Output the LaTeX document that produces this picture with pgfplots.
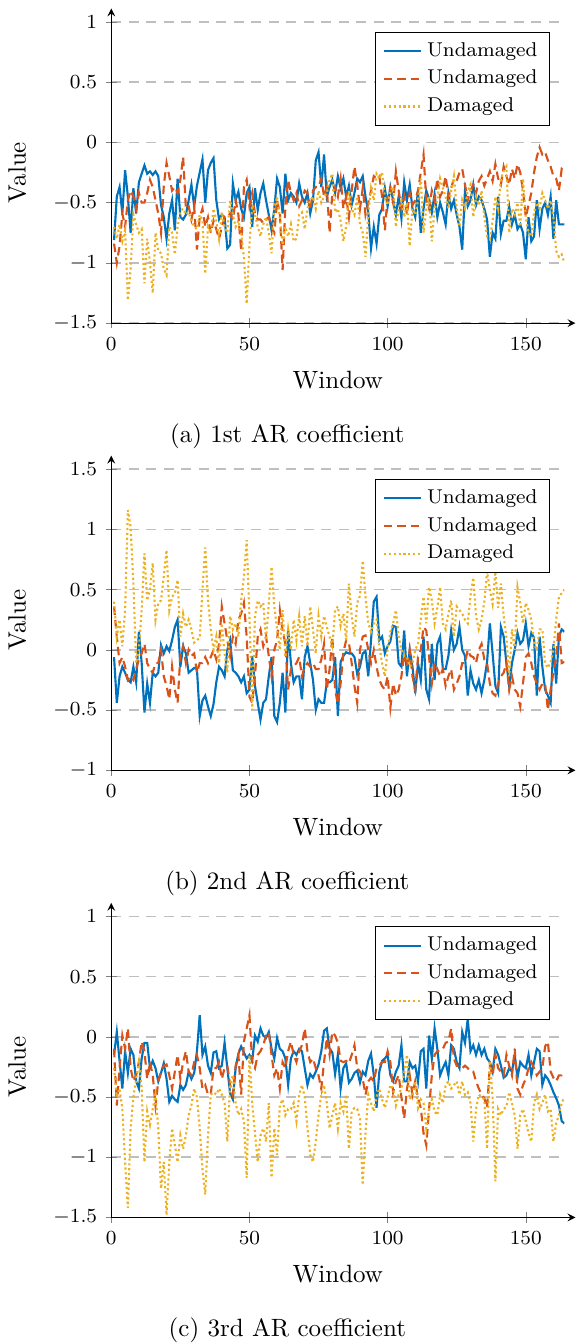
\documentclass[border=0pt]{standalone}
\usepackage{pgfplots}
\usepackage{pgfplotstable}
\pgfplotsset{compat=1.18}

\definecolor{cblue}{RGB}{0,114,189}
\definecolor{corange}{RGB}{217,83,25}
\definecolor{cyellow}{RGB}{237,177,32}

% columns: window, undamaged (1), undamaged (2), damaged
\pgfplotstableread{
x u1 u2 d
1 -0.81 -0.84 -0.70
2 -0.45 -1.00 -0.80
3 -0.37 -0.86 -0.68
4 -0.59 -0.59 -0.82
5 -0.23 -0.70 -0.73
6 -0.45 -0.48 -1.31
7 -0.75 -0.40 -1.05
8 -0.38 -0.45 -0.60
9 -0.59 -0.55 -0.68
10 -0.33 -0.42 -0.75
11 -0.26 -0.50 -0.72
12 -0.19 -0.50 -1.17
13 -0.26 -0.42 -0.80
14 -0.24 -0.31 -1.00
15 -0.27 -0.37 -1.25
16 -0.24 -0.48 -0.75
17 -0.28 -0.59 -0.90
18 -0.52 -0.75 -0.92
19 -0.62 -0.36 -1.05
20 -0.80 -0.17 -1.10
21 -0.59 -0.28 -0.70
22 -0.48 -0.40 -0.75
23 -0.73 -0.37 -0.93
24 -0.30 -0.42 -0.70
25 -0.62 -0.31 -0.57
26 -0.64 -0.12 -0.55
27 -0.60 -0.55 -0.60
28 -0.48 -0.53 -0.58
29 -0.35 -0.64 -0.65
30 -0.53 -0.53 -0.70
31 -0.36 -0.89 -0.72
32 -0.25 -0.62 -0.60
33 -0.14 -0.55 -0.65
34 -0.50 -0.70 -1.09
35 -0.23 -0.62 -0.70
36 -0.17 -0.75 -0.75
37 -0.13 -0.65 -0.55
38 -0.48 -0.72 -0.65
39 -0.64 -0.80 -0.80
40 -0.60 -0.70 -0.58
41 -0.62 -0.62 -0.70
42 -0.88 -0.62 -0.75
43 -0.85 -0.59 -0.48
44 -0.34 -0.64 -0.60
45 -0.48 -0.48 -0.70
46 -0.41 -0.60 -0.65
47 -0.55 -0.90 -0.75
48 -0.62 -0.37 -0.95
49 -0.42 -0.31 -1.34
50 -0.37 -0.53 -0.85
51 -0.70 -0.42 -0.52
52 -0.38 -0.59 -0.60
53 -0.56 -0.64 -0.70
54 -0.42 -0.64 -0.78
55 -0.34 -0.67 -0.68
56 -0.48 -0.64 -0.62
57 -0.60 -0.62 -0.75
58 -0.73 -0.70 -0.92
59 -0.55 -0.75 -0.55
60 -0.30 -0.48 -0.45
61 -0.37 -0.59 -0.62
62 -0.59 -1.06 -0.85
63 -0.26 -0.53 -0.70
64 -0.48 -0.31 -0.78
65 -0.42 -0.42 -0.68
66 -0.45 -0.48 -0.82
67 -0.50 -0.42 -0.80
68 -0.34 -0.53 -0.60
69 -0.45 -0.48 -0.58
70 -0.50 -0.40 -0.72
71 -0.42 -0.42 -0.55
72 -0.59 -0.56 -0.48
73 -0.48 -0.40 -0.45
74 -0.15 -0.37 -0.55
75 -0.08 -0.37 -0.40
76 -0.37 -0.30 -0.50
77 -0.10 -0.45 -0.45
78 -0.45 -0.37 -0.42
79 -0.37 -0.75 -0.31
80 -0.31 -0.42 -0.26
81 -0.42 -0.37 -0.58
82 -0.28 -0.45 -0.55
83 -0.38 -0.30 -0.65
84 -0.30 -0.55 -0.82
85 -0.45 -0.45 -0.70
86 -0.36 -0.62 -0.40
87 -0.52 -0.40 -0.55
88 -0.42 -0.20 -0.60
89 -0.30 -0.35 -0.45
90 -0.33 -0.55 -0.68
91 -0.28 -0.38 -0.75
92 -0.45 -0.60 -0.95
93 -0.58 -0.50 -0.60
94 -0.88 -0.40 -0.38
95 -0.70 -0.28 -0.48
96 -0.84 -0.30 -0.26
97 -0.60 -0.28 -0.30
98 -0.55 -0.45 -0.25
99 -0.38 -0.73 -0.45
100 -0.53 -0.45 -0.52
101 -0.37 -0.38 -0.40
102 -0.48 -0.50 -0.37
103 -0.60 -0.24 -0.70
104 -0.45 -0.40 -0.55
105 -0.63 -0.55 -0.48
106 -0.33 -0.45 -0.62
107 -0.48 -0.60 -0.50
108 -0.35 -0.42 -0.86
109 -0.55 -0.52 -0.55
110 -0.62 -0.48 -0.60
111 -0.40 -0.40 -0.48
112 -0.75 -0.25 -0.30
113 -0.55 -0.10 -0.75
114 -0.40 -0.48 -0.55
115 -0.47 -0.55 -0.45
116 -0.58 -0.40 -0.82
117 -0.43 -0.48 -0.55
118 -0.62 -0.30 -0.48
119 -0.50 -0.45 -0.30
120 -0.58 -0.40 -0.38
121 -0.68 -0.28 -0.45
122 -0.42 -0.45 -0.55
123 -0.55 -0.38 -0.40
124 -0.48 -0.30 -0.28
125 -0.60 -0.32 -0.55
126 -0.70 -0.25 -0.70
127 -0.89 -0.22 -0.48
128 -0.40 -0.35 -0.55
129 -0.53 -0.48 -0.40
130 -0.48 -0.40 -0.35
131 -0.35 -0.35 -0.62
132 -0.52 -0.42 -0.45
133 -0.45 -0.32 -0.52
134 -0.48 -0.28 -0.40
135 -0.55 -0.36 -0.62
136 -0.64 -0.30 -0.78
137 -0.95 -0.24 -0.80
138 -0.75 -0.32 -0.65
139 -0.80 -0.18 -0.45
140 -0.45 -0.30 -0.55
141 -0.76 -0.35 -0.30
142 -0.65 -0.20 -0.24
143 -0.65 -0.28 -0.20
144 -0.53 -0.35 -0.75
145 -0.68 -0.22 -0.55
146 -0.60 -0.30 -0.60
147 -0.72 -0.18 -0.50
148 -0.68 -0.25 -0.70
149 -0.75 -0.40 -0.30
150 -0.97 -0.62 -0.62
151 -0.62 -0.52 -0.75
152 -0.82 -0.42 -0.78
153 -0.78 -0.25 -0.58
154 -0.48 -0.12 -0.50
155 -0.72 -0.04 -0.55
156 -0.55 -0.10 -0.42
157 -0.50 -0.08 -0.48
158 -0.60 -0.15 -0.55
159 -0.45 -0.20 -0.48
160 -0.80 -0.28 -0.62
161 -0.48 -0.30 -0.90
162 -0.68 -0.40 -0.95
163 -0.68 -0.22 -0.93
164 -0.68 -0.24 -1.00
}\coefA

\pgfplotstableread{
x u1 u2 d
1 -0.06 0.36 0.40
2 -0.44 0.11 0.11
3 -0.22 -0.11 0.25
4 -0.14 -0.06 0.03
5 -0.19 -0.14 0.33
6 -0.25 -0.25 1.16
7 -0.27 -0.22 1.02
8 -0.14 -0.25 0.55
9 -0.27 -0.16 -0.11
10 0.15 -0.08 0.00
11 -0.11 -0.03 0.33
12 -0.52 0.05 0.80
13 -0.28 -0.11 0.41
14 -0.44 -0.16 0.50
15 -0.19 -0.19 0.72
16 -0.22 -0.11 0.25
17 -0.19 -0.11 0.39
18 0.04 0.00 0.41
19 -0.03 -0.22 0.61
20 0.03 -0.30 0.83
21 -0.01 -0.41 0.33
22 0.08 -0.14 0.44
23 0.19 -0.33 0.47
24 0.25 -0.44 0.58
25 -0.14 -0.05 0.11
26 0.03 0.03 0.30
27 -0.03 -0.11 0.19
28 -0.19 0.00 0.25
29 -0.17 -0.05 0.17
30 -0.15 -0.03 0.06
31 -0.16 -0.19 0.08
32 -0.55 -0.11 0.10
33 -0.42 -0.11 0.50
34 -0.38 -0.06 0.85
35 -0.47 -0.11 0.41
36 -0.55 -0.06 0.17
37 -0.45 0.00 0.00
38 -0.27 -0.08 0.11
39 -0.14 0.05 -0.11
40 -0.17 0.36 0.22
41 -0.22 0.22 -0.03
42 0.00 0.08 -0.19
43 0.08 -0.05 0.28
44 -0.17 0.11 0.17
45 -0.19 0.05 0.22
46 -0.22 0.25 0.11
47 -0.27 0.30 0.41
48 -0.22 0.39 0.61
49 -0.36 0.11 0.91
50 -0.33 -0.39 0.28
51 -0.05 -0.44 -0.50
52 -0.30 -0.22 0.28
53 -0.44 0.11 0.41
54 -0.58 0.17 0.36
55 -0.44 0.03 0.39
56 -0.41 0.11 0.08
57 -0.22 -0.05 0.39
58 -0.06 -0.22 0.69
59 -0.55 0.00 0.36
60 -0.60 0.08 0.17
61 -0.44 0.33 0.00
62 -0.19 0.16 0.33
63 -0.52 0.05 -0.06
64 0.17 -0.33 0.17
65 -0.11 -0.16 0.00
66 -0.27 -0.14 0.25
67 -0.22 -0.11 0.08
68 -0.22 -0.06 0.28
69 -0.41 -0.22 0.03
70 -0.06 -0.14 0.28
71 0.03 -0.11 0.03
72 -0.11 -0.14 0.36
73 -0.25 -0.11 0.17
74 -0.50 -0.16 -0.03
75 -0.41 -0.16 0.28
76 -0.44 -0.08 0.11
77 -0.44 0.05 0.28
78 -0.27 -0.33 0.19
79 -0.27 -0.16 0.11
80 -0.25 0.11 0.03
81 -0.06 -0.33 0.33
82 -0.55 -0.45 0.36
83 -0.10 -0.28 0.20
84 -0.05 -0.02 0.30
85 -0.02 0.08 0.08
86 -0.03 0.06 0.55
87 -0.03 -0.11 0.28
88 -0.06 -0.30 0.11
89 -0.20 -0.44 0.39
90 -0.14 0.00 0.45
91 -0.03 0.11 0.74
92 -0.01 0.12 0.44
93 -0.22 0.00 0.22
94 0.08 -0.11 0.15
95 0.40 0.00 0.22
96 0.44 -0.14 0.25
97 0.08 -0.25 0.03
98 0.11 -0.30 -0.11
99 -0.03 -0.33 -0.22
100 0.03 -0.22 0.00
101 0.07 -0.48 0.15
102 0.20 -0.28 0.22
103 0.19 -0.38 0.33
104 -0.11 -0.33 0.11
105 -0.14 -0.22 0.00
106 0.16 -0.03 -0.05
107 -0.22 -0.14 -0.06
108 0.00 0.00 -0.14
109 -0.14 -0.22 -0.11
110 -0.36 -0.33 0.00
111 -0.11 -0.06 0.05
112 -0.25 0.00 0.25
113 0.11 0.19 0.44
114 -0.33 0.16 0.22
115 -0.41 -0.06 0.52
116 0.05 -0.28 0.41
117 -0.25 -0.11 0.22
118 0.05 -0.16 0.35
119 0.11 -0.22 0.52
120 -0.16 -0.16 0.22
121 -0.16 -0.30 0.17
122 -0.05 -0.22 0.30
123 0.16 -0.16 0.41
124 0.00 -0.33 0.11
125 0.05 -0.28 0.36
126 0.19 -0.22 0.33
127 0.00 -0.11 0.30
128 -0.05 -0.11 0.25
129 -0.38 0.00 0.22
130 -0.17 -0.05 0.45
131 -0.28 -0.06 0.60
132 -0.33 -0.11 0.28
133 -0.25 0.00 0.17
134 -0.36 0.05 0.25
135 -0.25 -0.08 0.40
136 -0.10 -0.11 0.65
137 0.22 -0.28 0.50
138 -0.03 -0.36 0.38
139 -0.30 -0.38 0.65
140 -0.36 -0.28 0.35
141 0.19 -0.22 0.55
142 0.11 -0.19 0.28
143 -0.11 -0.11 0.10
144 -0.30 -0.33 -0.22
145 -0.11 -0.22 0.17
146 0.00 -0.33 0.00
147 0.14 -0.36 0.52
148 0.05 -0.47 0.39
149 0.08 -0.28 0.22
150 0.22 -0.06 0.39
151 0.03 -0.03 0.33
152 0.14 -0.11 0.25
153 0.10 -0.22 0.05
154 -0.38 -0.28 0.00
155 0.11 -0.33 0.17
156 -0.14 -0.28 0.17
157 -0.33 -0.28 -0.11
158 -0.38 -0.50 -0.15
159 -0.44 -0.33 -0.10
160 0.05 -0.19 0.00
161 -0.28 -0.06 0.25
162 0.11 0.22 0.44
163 0.17 -0.11 0.47
164 0.15 -0.10 0.50
}\coefB

\pgfplotstableread{
x u1 u2 d
1 -0.15 -0.10 -0.26
2 0.04 -0.57 -0.50
3 -0.20 -0.26 -0.43
4 -0.43 0.01 -0.60
5 -0.12 -0.10 -1.04
6 -0.30 0.07 -1.42
7 -0.10 -0.26 -0.76
8 -0.15 -0.37 -0.50
9 -0.37 -0.32 -0.35
10 -0.43 -0.21 -0.21
11 -0.18 -0.04 -0.43
12 -0.05 -0.12 -1.04
13 -0.05 -0.35 -0.62
14 -0.26 -0.21 -0.73
15 -0.20 -0.32 -0.60
16 -0.26 -0.57 -0.48
17 -0.37 -0.37 -0.76
18 -0.30 -0.29 -1.26
19 -0.22 -0.24 -1.04
20 -0.35 -0.23 -1.48
21 -0.54 -0.32 -1.04
22 -0.49 -0.43 -0.76
23 -0.52 -0.29 -0.90
24 -0.54 -0.15 -1.04
25 -0.40 -0.35 -0.82
26 -0.44 -0.21 -0.93
27 -0.40 -0.12 -0.82
28 -0.29 -0.29 -0.65
29 -0.35 -0.32 -0.57
30 -0.30 -0.21 -0.43
31 -0.12 -0.15 -0.50
32 0.18 -0.26 -0.76
33 -0.15 -0.43 -1.10
34 -0.08 -0.40 -1.31
35 -0.24 -0.48 -0.82
36 -0.30 -0.48 -0.48
37 -0.13 -0.26 -0.46
38 -0.12 -0.26 -0.48
39 -0.26 -0.21 -0.43
40 -0.24 -0.35 -0.48
41 -0.05 -0.26 -0.55
42 -0.26 -0.24 -0.87
43 -0.47 -0.40 -0.40
44 -0.52 -0.48 -0.32
45 -0.26 -0.24 -0.55
46 -0.14 -0.15 -0.65
47 -0.08 -0.48 -0.60
48 -0.13 -0.04 -0.70
49 -0.18 0.07 -1.17
50 -0.15 0.18 -0.15
51 -0.20 -0.21 -0.55
52 0.01 -0.26 -0.80
53 -0.04 -0.15 -1.04
54 0.07 -0.12 -0.82
55 0.01 -0.07 -0.76
56 -0.01 0.01 -0.87
57 0.04 0.04 -0.55
58 -0.10 -0.15 -1.17
59 -0.18 -0.32 -0.76
60 -0.01 -0.26 -0.98
61 -0.10 -0.43 -0.57
62 -0.12 -0.21 -0.52
63 -0.18 -0.26 -0.65
64 -0.40 -0.12 -0.60
65 -0.18 -0.04 -0.60
66 -0.12 -0.15 -0.55
67 -0.15 -0.21 -0.70
68 -0.10 -0.12 -0.48
69 -0.12 -0.07 -0.40
70 -0.26 0.07 -0.50
71 -0.40 -0.12 -0.76
72 -0.31 -0.21 -0.98
73 -0.34 -0.18 -1.04
74 -0.29 -0.26 -0.87
75 -0.23 -0.32 -0.65
76 -0.12 -0.43 -0.48
77 0.05 -0.21 -0.40
78 0.07 -0.01 -0.55
79 -0.10 -0.15 -0.76
80 -0.13 0.04 -0.65
81 -0.31 0.01 -0.55
82 -0.15 -0.05 -0.76
83 -0.43 -0.20 -0.55
84 -0.26 -0.21 -0.62
85 -0.22 -0.20 -0.48
86 -0.38 -0.22 -0.93
87 -0.35 -0.15 -0.62
88 -0.30 -0.07 -0.59
89 -0.28 -0.26 -0.60
90 -0.38 -0.29 -0.68
91 -0.29 -0.35 -1.23
92 -0.32 -0.48 -0.80
93 -0.20 -0.37 -0.48
94 -0.14 -0.34 -0.55
95 -0.32 -0.37 -0.62
96 -0.59 -0.26 -0.50
97 -0.29 -0.24 -0.43
98 -0.20 -0.21 -0.52
99 -0.18 -0.21 -0.59
100 -0.15 -0.12 -0.50
101 -0.32 -0.21 -0.40
102 -0.37 -0.46 -0.43
103 -0.29 -0.37 -0.57
104 -0.24 -0.32 -0.48
105 -0.07 -0.50 -0.43
106 -0.37 -0.68 -0.30
107 -0.37 -0.43 -0.15
108 -0.21 -0.32 -0.52
109 -0.26 -0.48 -0.48
110 -0.24 -0.37 -0.37
111 -0.37 -0.51 -0.59
112 -0.12 -0.59 -0.52
113 -0.10 -0.80 -0.55
114 -0.43 -0.90 -0.76
115 0.01 -0.60 -0.60
116 -0.18 -0.32 -0.52
117 0.07 -0.15 -0.62
118 -0.10 -0.12 -0.65
119 -0.32 -0.12 -0.48
120 -0.26 -0.10 -0.55
121 -0.21 -0.05 -0.40
122 -0.32 -0.04 -0.37
123 -0.07 0.07 -0.43
124 -0.10 -0.18 -0.40
125 -0.21 -0.24 -0.37
126 -0.26 -0.24 -0.48
127 0.04 -0.26 -0.37
128 -0.05 -0.24 -0.48
129 0.15 -0.26 -0.46
130 -0.12 -0.29 -0.55
131 -0.07 -0.29 -0.87
132 -0.15 -0.37 -0.60
133 -0.07 -0.43 -0.48
134 -0.15 -0.48 -0.50
135 -0.10 -0.51 -0.52
136 -0.18 -0.59 -0.93
137 -0.21 -0.24 -0.20
138 -0.29 -0.32 -0.50
139 -0.10 -0.15 -1.20
140 -0.15 -0.26 -0.60
141 -0.24 -0.29 -0.65
142 -0.34 -0.32 -0.60
143 -0.32 -0.15 -0.58
144 -0.26 -0.24 -0.46
145 -0.29 -0.32 -0.55
146 -0.15 -0.10 -0.65
147 -0.34 -0.43 -0.93
148 -0.21 -0.48 -0.65
149 -0.24 -0.40 -0.60
150 -0.26 -0.35 -0.70
151 -0.15 -0.26 -0.80
152 -0.32 -0.21 -0.87
153 -0.21 -0.26 -0.55
154 -0.10 -0.32 -0.48
155 -0.12 -0.29 -0.60
156 -0.40 -0.26 -0.55
157 -0.32 -0.08 -0.48
158 -0.35 -0.04 -0.62
159 -0.40 -0.29 -0.60
160 -0.46 -0.34 -0.87
161 -0.51 -0.37 -0.72
162 -0.57 -0.32 -0.65
163 -0.70 -0.32 -0.55
164 -0.72 -0.30 -0.50
}\coefC

\pgfplotsset{
  arcoef/.style={
    scale only axis,
    width=181.2pt, height=120.4pt,
    axis lines=left,
    x axis line style={shorten >=-4.4pt},
    y axis line style={shorten >=-5.4pt},
    xmin=0, xmax=164,
    xtick={0,50,100,150},
    tick align=center,
    ymajorgrids,
    grid style={black!25, line width=0.6pt, dash pattern=on 4pt off 3pt},
    xlabel={Window}, ylabel={Value},
    ylabel shift=4pt,
    xlabel shift=1.5pt,
    tick label style={font=\footnotesize},
    label style={font=\normalsize},
    legend style={font=\footnotesize, at={(0.969,0.967)}, anchor=north east,
      draw=black, cells={anchor=west}},
    legend image code/.code={
      \draw[mark repeat=2,mark phase=2,##1] plot coordinates {(0cm,0cm) (0.26cm,0cm) (0.52cm,0cm)};
    },
  },
  und1/.style={cblue, line width=0.85pt},
  und2/.style={corange, line width=0.85pt, dash pattern=on 3.4pt off 2pt},
  dam/.style={cyellow, line width=0.85pt, dash pattern=on 0.85pt off 1.1pt},
}
\tikzset{subcap/.style={inner sep=0pt, font=\normalsize}}

\begin{document}
\begin{tikzpicture}

\begin{axis}[arcoef, name=A, ymin=-1.5, ymax=1, ytick={-1.5,-1,...,1}]
\addplot[und1] table[x=x, y=u1] {\coefA};
\addplot[und2] table[x=x, y=u2] {\coefA};
\addplot[dam] table[x=x, y=d] {\coefA};
\legend{Undamaged, Undamaged, Damaged}
\end{axis}
\node[subcap] at ([xshift=70.4pt, yshift=-45.2pt]A.south west) {(a) 1st AR coefficient};

\begin{axis}[arcoef, name=B, at={(0,-178.8pt)}, ymin=-1, ymax=1.5, ytick={-1,-0.5,...,1.5}]
\addplot[und1] table[x=x, y=u1] {\coefB};
\addplot[und2] table[x=x, y=u2] {\coefB};
\addplot[dam] table[x=x, y=d] {\coefB};
\legend{Undamaged, Undamaged, Damaged}
\end{axis}
\node[subcap] at ([xshift=70.4pt, yshift=-45.2pt]B.south west) {(b) 2nd AR coefficient};

\begin{axis}[arcoef, name=C, at={(0,-357.6pt)}, ymin=-1.5, ymax=1, ytick={-1.5,-1,...,1}]
\addplot[und1] table[x=x, y=u1] {\coefC};
\addplot[und2] table[x=x, y=u2] {\coefC};
\addplot[dam] table[x=x, y=d] {\coefC};
\legend{Undamaged, Undamaged, Damaged}
\end{axis}
\node[subcap] at ([xshift=70.4pt, yshift=-45.2pt]C.south west) {(c) 3rd AR coefficient};

% room for the arrow tips that stick out past the axis limits
\path ([yshift=8.8pt]A.north west) ([xshift=4.9pt]A.south east);

\end{tikzpicture}
\end{document}
